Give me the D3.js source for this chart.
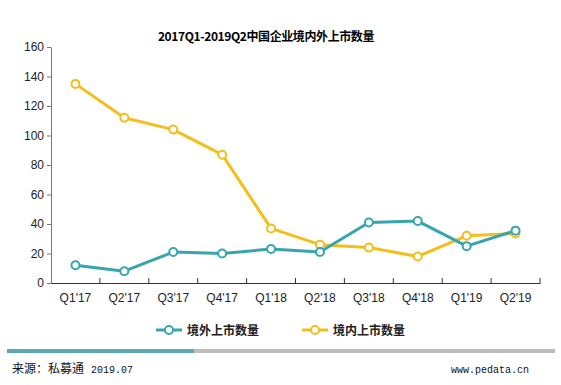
<!DOCTYPE html>
<html>
<head>
<meta charset="utf-8">
<script src="https://d3js.org/d3.v7.min.js"></script>
<style>
  body { margin: 0; background: #fff; }
  svg { display: block; }
</style>
</head>
<body>
<div id="chart"></div>
<script>
const quarters = ["Q1'17", "Q2'17", "Q3'17", "Q4'17", "Q1'18", "Q2'18", "Q3'18", "Q4'18", "Q1'19", "Q2'19"];
const overseas = [12, 8, 21, 20, 23, 21, 41, 42, 25, 35.5];
const domestic = [135, 112, 104, 87, 37, 26, 24, 18, 32, 33.5];
const yTicks = [0, 20, 40, 60, 80, 100, 120, 140, 160];
const seriesNames = ["境外上市数量", "境内上市数量"];

const width = 561, height = 385;
const teal = "#37a5ad", yellow = "#f2bf1b";

const svg = d3.select("#chart").append("svg")
  .attr("width", width)
  .attr("height", height);

// title
svg.append("text")
  .attr("x", 266)
  .attr("y", 41)
  .attr("text-anchor", "middle")
  .style("font-family", "'Liberation Sans Narrow', 'Noto Sans CJK SC', sans-serif")
  .style("font-weight", "bold")
  .style("font-size", "12px")
  .style("letter-spacing", "-0.4px")
  .text("2017Q1-2019Q2中国企业境内外上市数量");

const x = d3.scaleBand().domain(quarters).range([51, 540]);
const y = d3.scaleLinear().domain([0, 160]).range([283, 47]);

// y axis
const yAxis = svg.append("g")
  .attr("transform", "translate(51,0)")
  .call(d3.axisLeft(y).tickValues(yTicks).tickSize(4).tickSizeOuter(0));
yAxis.select(".domain").attr("stroke", "#777");
yAxis.selectAll(".tick line").attr("stroke", "#777");
yAxis.selectAll("text")
  .attr("fill", "#222")
  .style("font-family", "'Liberation Sans', Arial, sans-serif")
  .style("font-size", "12px");

// x axis, ticks on band edges
const xAxis = svg.append("g")
  .attr("transform", "translate(0,283)")
  .call(d3.axisBottom(x).tickSize(0).tickPadding(10));
xAxis.select(".domain").attr("stroke", "#333");
xAxis.selectAll("text")
  .attr("fill", "#222")
  .style("font-family", "'Liberation Sans', Arial, sans-serif")
  .style("font-size", "12px");
svg.append("g").selectAll("line")
  .data(quarters)
  .join("line")
  .attr("x1", d => x(d) + x.bandwidth())
  .attr("x2", d => x(d) + x.bandwidth())
  .attr("y1", 283)
  .attr("y2", 278)
  .attr("stroke", "#333");

const cx = i => x(quarters[i]) + x.bandwidth() / 2;
const line = d3.line().x((d, i) => cx(i)).y(d => y(d));

function drawSeries(vals, color) {
  svg.append("path")
    .datum(vals)
    .attr("d", line)
    .attr("fill", "none")
    .attr("stroke", color)
    .attr("stroke-width", 3)
    .attr("stroke-linejoin", "round");
  svg.append("g").selectAll("circle")
    .data(vals)
    .join("circle")
    .attr("cx", (d, i) => cx(i))
    .attr("cy", d => y(d))
    .attr("r", 4)
    .attr("fill", "#fff")
    .attr("stroke", color)
    .attr("stroke-width", 2);
}
drawSeries(domestic, yellow);
drawSeries(overseas, teal);

// legend
const legend = svg.append("g");
const legItems = [
  { name: seriesNames[0], color: teal, x: 156 },
  { name: seriesNames[1], color: yellow, x: 302 }
];
legItems.forEach(function (d) {
  legend.append("line")
    .attr("x1", d.x).attr("x2", d.x + 26)
    .attr("y1", 330).attr("y2", 330)
    .attr("stroke", d.color)
    .attr("stroke-width", 3);
  legend.append("circle")
    .attr("cx", d.x + 13).attr("cy", 330).attr("r", 4)
    .attr("fill", "#fff")
    .attr("stroke", d.color)
    .attr("stroke-width", 2);
  legend.append("text")
    .attr("x", d.x + 31)
    .attr("y", 334.5)
    .style("font-family", "'Noto Sans CJK SC', sans-serif")
    .style("font-weight", "bold")
    .style("font-size", "12px")
    .attr("fill", "#222")
    .text(d.name);
});

// footer bar
svg.append("rect").attr("x", 7).attr("y", 349).attr("width", 548).attr("height", 4).attr("fill", "#bdbdbd");
svg.append("rect").attr("x", 7).attr("y", 349).attr("width", 187).attr("height", 4).attr("fill", "#5aa8b8");

svg.append("text")
  .attr("x", 12)
  .attr("y", 373)
  .style("font-family", "'Noto Sans CJK SC', sans-serif")
  .style("font-size", "12px")
  .attr("fill", "#111")
  .text("来源：私募通");
svg.append("text")
  .attr("x", 91)
  .attr("y", 373)
  .style("font-family", "'Liberation Mono', monospace")
  .style("font-size", "10px")
  .attr("fill", "#111")
  .text("2019.07");
svg.append("text")
  .attr("x", 529)
  .attr("y", 373)
  .attr("text-anchor", "end")
  .style("font-family", "'Liberation Mono', monospace")
  .style("font-size", "10px")
  .attr("fill", "#111")
  .text("www.pedata.cn");
</script>
</body>
</html>
